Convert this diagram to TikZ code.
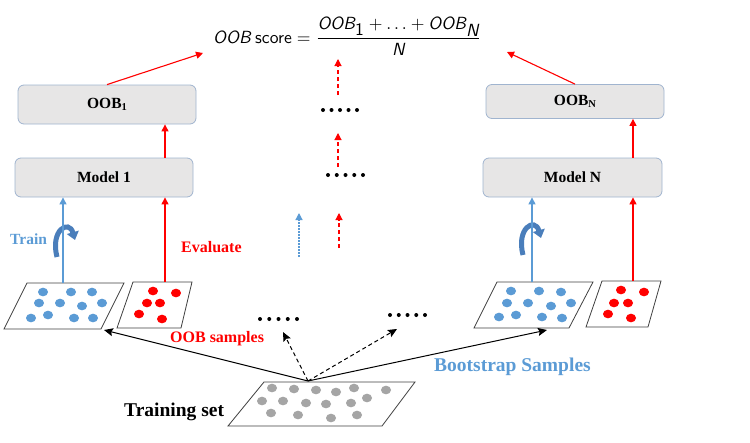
\documentclass[tikz,border=0pt]{standalone}
\usepackage{graphicx}
\usepackage[no-math]{fontspec}
\setmainfont{Liberation Serif}
\usetikzlibrary{arrows.meta,calc}
\definecolor{myblue}{HTML}{5B9BD5}
\definecolor{myred}{HTML}{FF0000}
\definecolor{dotgray}{HTML}{A5A5A5}
\definecolor{boxfill}{HTML}{E7E6E6}
\definecolor{boxline}{HTML}{A0B4CF}
\definecolor{curlblue}{HTML}{4A7EBB}
\definecolor{edgegray}{HTML}{404040}
\newcommand\lowsub[1]{\raisebox{-0.3ex}{\fontsize{10.5}{10.5}\selectfont #1}}
\tikzset{
  box/.style={draw=boxline, fill=boxfill, rounded corners=6pt, line width=0.8pt,
    font=\bfseries\fontsize{15.5}{16}\selectfont, inner sep=0pt},
  redarr/.style={color=myred, line width=1.1pt, -{Triangle[width=7pt,length=7pt]}},
  reddash/.style={redarr, dash pattern=on 4pt off 3pt},
  bluearr/.style={color=myblue, line width=1.1pt, -{Triangle[width=7pt,length=7pt]}},
  bluedot/.style={color=myblue, line width=1.2pt, dash pattern=on 2pt off 1pt, -{Triangle[width=7pt,length=7pt]}},
  blackarr/.style={color=black, line width=1pt, -{Stealth[width=8pt,length=9pt,inset=1.5pt]}},
  blackdash/.style={blackarr, dash pattern=on 4pt off 3pt},
  plate/.style={draw=edgegray, line width=0.8pt, fill=white},
  curl/.style={color=curlblue, line width=5pt, -{Triangle[width=12pt,length=8pt]}},
  lbl/.style={anchor=base west, inner sep=0pt, font=\bfseries\fontsize{#1}{#1}\selectfont},
}
\begin{document}
\begin{tikzpicture}[x=1pt,y=-1pt]
\useasboundingbox (0,0) rectangle (750,442);

% formula
\node[anchor=base west, inner sep=0pt] (formula) at (213,43)
  {\scalebox{1.76}{$\displaystyle\textsf{\itshape OOB}\ \textsf{score} = \frac{\textsf{\itshape OOB}_{\textsf{1}} + \ldots + \textsf{\itshape OOB}_{\textsf{\itshape N}}}{\textsf{\itshape N}}$}};
\coordinate (fL) at (203,53);
\coordinate (fR) at (507,52);

% boxes
\node[box, minimum width=178pt, minimum height=39pt] (o1) at (107,104.5) {OOB\lowsub{1}};
\node[box, minimum width=178pt, minimum height=39pt] (m1) at (104,177.5) {Model 1};
\node[box, minimum width=178pt, minimum height=34pt] (oN) at (575,101.5) {OOB\lowsub{N}};
\node[box, minimum width=179pt, minimum height=39pt] (mN) at (572.5,177.5) {Model N};

\draw[redarr] (o1.north) -- (fL);
\draw[redarr] (oN.north) -- (fR);

% plates
\draw[plate] (27,283) -- (124,283) -- (101,329) -- (4,329) -- cycle;
\draw[plate] (133,282) -- (192,282) -- (181,328) -- (117,328) -- cycle;
\draw[plate] (497,282) -- (593,282) -- (569,328) -- (474,328) -- cycle;
\draw[plate] (602,281) -- (661,281) -- (648,327) -- (586,327) -- cycle;
\draw[plate] (264,382) -- (415,382) -- (382,426) -- (228,426) -- cycle;

\foreach \x/\y in {43/292,71/292,92/292,39/303,60/303,82/306,102/303,31/318,48/315,74/318,93/318,
                   511/291,539/291,561/292,507/303,528/303,551/306,571/303,499/317,516/315,542/317,562/318}
  \fill[myblue] (\x,\y) ellipse [x radius=5pt, y radius=4.3pt];
\foreach \x/\y in {153/291,176/293,147/303,160/303,139/314,162/319,
                   621/290,644/292,614/303,628/303,608/314,631/318}
  \fill[myred] (\x,\y) ellipse [x radius=5pt, y radius=4.3pt];
\foreach \x/\y in {272/388,294/389,316/390,336/392,354/388,386/390,262/401,283/401,306/403,326/404,351/403,367/398,271/413,298/415,331/418,357/415}
  \fill[dotgray] (\x,\y) ellipse [x radius=5pt, y radius=4.3pt];

% curls
\draw[curl] (57,257) .. controls (50,230) and (69,219) .. (75,240);
\draw[curl] (523,255) .. controls (516,228) and (535,217) .. (541,238);

% vertical connectors
\coordinate (t1) at (63,283);
\coordinate (e1) at (165,282);
\coordinate (tN) at (532,282);
\coordinate (eN) at (633,281);
\draw[bluearr] (t1) -- (t1 |- m1.south);
\draw[redarr] (e1) -- (e1 |- m1.south);
\draw[redarr] (e1 |- m1.north) -- (e1 |- o1.south);
\draw[bluearr] (tN) -- (tN |- mN.south);
\draw[redarr] (eN) -- (eN |- mN.south);
\draw[redarr] (eN |- mN.north) -- (eN |- oN.south);

% middle column
\coordinate (mb0) at (299,257); \coordinate (mb1) at (299,213);
\coordinate (mr0) at (339,248); \coordinate (mr1) at (339,213);
\coordinate (ms0) at (338,167); \coordinate (ms1) at (338,133);
\coordinate (mt0) at (338,95);  \coordinate (mt1) at (338,59);
\draw[bluedot] (mb0) -- (mb1);
\draw[reddash] (mr0) -- (mr1);
\draw[reddash] (ms0) -- (ms1);
\draw[reddash] (mt0) -- (mt1);
\foreach \i in {0,...,4} {
  \fill (328+8.75*\i,175) circle (2pt);
  \fill (323+8.5*\i,110) circle (2pt);
  \fill (260+9.25*\i,319) circle (2pt);
  \fill (390+8.75*\i,315) circle (2pt);
}

% bootstrap arrows
\coordinate (ts) at (308,381);
\coordinate (bL) at (104,330);
\coordinate (dL) at (283,332);
\coordinate (dR) at (397,329);
\coordinate (bR) at (547,330);
\draw[blackarr] (ts) -- (bL);
\draw[blackdash] (ts) -- (dL);
\draw[blackdash] (ts) -- (dR);
\draw[blackarr] (ts) -- (bR);

% labels
\node[lbl=15.5, text=myblue] (train) at (10,244) {Train};
\node[lbl=16, text=myred] (eval) at (181,252) {Evaluate};
\node[lbl=16, text=myred] (oobs) at (170,342) {OOB samples};
\node[lbl=19.5, text=myblue] (boot) at (434,371) {Bootstrap Samples};
\node[lbl=19.5, text=black] (tset) at (124,416) {Training set};
\end{tikzpicture}
\end{document}
